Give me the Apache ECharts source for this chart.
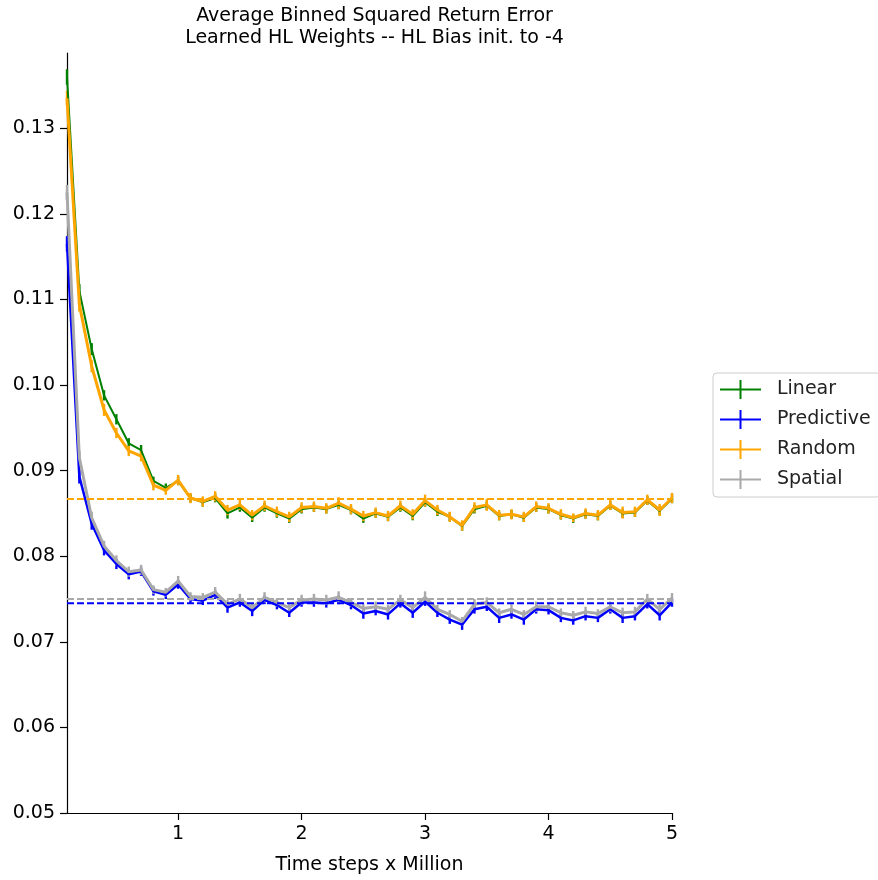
<!DOCTYPE html>
<html>
<head>
<meta charset="utf-8">
<script src="https://cdn.jsdelivr.net/npm/echarts@6/dist/echarts.min.js"></script>
<style>html,body{margin:0;padding:0;background:#fff}#c{width:878px;height:880px}</style>
</head>
<body>
<div id="c"></div>
<script>
const xs = [0.1,0.2,0.3,0.4,0.5,0.6,0.7,0.8,0.9,1.0,1.1,1.2,1.3,1.4,1.5,1.6,1.7,1.8,1.9,2.0,2.1,2.2,2.3,2.4,2.5,2.6,2.7,2.8,2.9,3.0,3.1,3.2,3.3,3.4,3.5,3.6,3.7,3.8,3.9,4.0,4.1,4.2,4.3,4.4,4.5,4.6,4.7,4.8,4.9,5.0];
const linear = [0.1360,0.1110,0.1042,0.0988,0.0960,0.0932,0.0924,0.0888,0.0880,0.0888,0.0868,0.0863,0.0868,0.0850,0.0857,0.0845,0.0857,0.0850,0.0844,0.0855,0.0857,0.0855,0.0860,0.0854,0.0844,0.0850,0.0846,0.0857,0.0847,0.0863,0.0852,0.0846,0.0835,0.0855,0.0859,0.0847,0.0849,0.0845,0.0857,0.0855,0.0848,0.0844,0.0849,0.0847,0.0859,0.0850,0.0851,0.0865,0.0853,0.0867];
const predictive = [0.1165,0.0893,0.0838,0.0807,0.0791,0.0779,0.0782,0.0759,0.0755,0.0767,0.0750,0.0748,0.0755,0.0740,0.0746,0.0736,0.0749,0.0743,0.0734,0.0746,0.0746,0.0745,0.0749,0.0743,0.0733,0.0736,0.0732,0.0745,0.0734,0.0747,0.0734,0.0726,0.0720,0.0738,0.0741,0.0728,0.0732,0.0726,0.0738,0.0737,0.0728,0.0725,0.0730,0.0728,0.0738,0.0728,0.0730,0.0744,0.0731,0.0746];
const random = [0.1335,0.1094,0.1022,0.0971,0.0944,0.0923,0.0917,0.0883,0.0877,0.0889,0.0868,0.0864,0.0870,0.0854,0.0860,0.0848,0.0859,0.0852,0.0846,0.0857,0.0858,0.0856,0.0862,0.0855,0.0847,0.0851,0.0847,0.0859,0.0849,0.0865,0.0854,0.0846,0.0836,0.0857,0.0860,0.0848,0.0849,0.0846,0.0858,0.0856,0.0849,0.0845,0.0850,0.0848,0.0860,0.0851,0.0852,0.0866,0.0854,0.0868];
const spatial = [0.1225,0.0915,0.0845,0.0812,0.0795,0.0782,0.0784,0.0761,0.0758,0.0771,0.0753,0.0752,0.0758,0.0744,0.0750,0.0740,0.0752,0.0746,0.0740,0.0749,0.0750,0.0749,0.0752,0.0746,0.0739,0.0741,0.0738,0.0749,0.0740,0.0752,0.0738,0.0732,0.0724,0.0744,0.0746,0.0734,0.0738,0.0732,0.0741,0.0741,0.0734,0.0731,0.0735,0.0733,0.0741,0.0734,0.0735,0.0750,0.0738,0.0751];
const linearErr = [0.0009,0.0008,0.0007,0.0006,0.0006,0.0006,0.0006,0.0005,0.0005,0.0005,0.0005,0.0005,0.0005,0.0006,0.0005,0.0005,0.0005,0.0005,0.0005,0.0005,0.0005,0.0005,0.0005,0.0005,0.0005,0.0005,0.0005,0.0005,0.0005,0.0005,0.0005,0.0005,0.0005,0.0005,0.0005,0.0005,0.0005,0.0005,0.0005,0.0005,0.0005,0.0005,0.0005,0.0005,0.0005,0.0005,0.0005,0.0005,0.0005,0.0005];
const predictiveErr = [0.0009,0.0008,0.0007,0.0006,0.0006,0.0006,0.0005,0.0005,0.0005,0.0005,0.0005,0.0005,0.0005,0.0006,0.0005,0.0006,0.0005,0.0005,0.0005,0.0005,0.0005,0.0005,0.0005,0.0005,0.0006,0.0005,0.0006,0.0005,0.0006,0.0005,0.0005,0.0005,0.0006,0.0005,0.0005,0.0006,0.0005,0.0006,0.0005,0.0005,0.0005,0.0005,0.0005,0.0005,0.0005,0.0006,0.0005,0.0005,0.0006,0.0005];
const randomErr = [0.0009,0.0008,0.0007,0.0007,0.0006,0.0006,0.0006,0.0006,0.0005,0.0006,0.0006,0.0006,0.0006,0.0006,0.0006,0.0006,0.0006,0.0006,0.0006,0.0006,0.0006,0.0006,0.0007,0.0006,0.0006,0.0006,0.0006,0.0006,0.0006,0.0007,0.0006,0.0006,0.0006,0.0006,0.0007,0.0006,0.0006,0.0006,0.0006,0.0006,0.0006,0.0005,0.0006,0.0006,0.0006,0.0007,0.0006,0.0006,0.0007,0.0006];
const spatialErr = [0.0009,0.0008,0.0007,0.0006,0.0006,0.0006,0.0006,0.0005,0.0005,0.0006,0.0005,0.0005,0.0006,0.0005,0.0006,0.0005,0.0006,0.0005,0.0005,0.0006,0.0006,0.0006,0.0007,0.0005,0.0005,0.0006,0.0005,0.0006,0.0005,0.0007,0.0005,0.0005,0.0005,0.0006,0.0006,0.0005,0.0006,0.0005,0.0006,0.0005,0.0005,0.0005,0.0006,0.0005,0.0006,0.0006,0.0006,0.0006,0.0006,0.0006];
const baselines = {Linear: null, Predictive: 0.0745, Random: 0.0867, Spatial: 0.0750};
const names = ['Linear','Predictive','Random','Spatial'];
const colors = ['#008000','#0000ff','#ffa500','#a9a9a9'];
const widths = [2, 2.5, 3, 3];
const values = [linear, predictive, random, spatial];
const errs = [linearErr, predictiveErr, randomErr, spatialErr];
const yTicks = [0.05,0.06,0.07,0.08,0.09,0.10,0.11,0.12,0.13];
const xTicks = [1,2,3,4,5];

const FONT = 'DejaVu Sans';
const series = [];
names.forEach((n, i) => {
  series.push({
    name: n, type: 'line', showSymbol: false, symbol: 'none',
    data: xs.map((x, k) => [x, values[i][k]]),
    lineStyle: {color: colors[i], width: widths[i]},
    itemStyle: {color: colors[i]},
    emphasis: {disabled: true}, animation: false
  });
  series.push({
    name: n + ' err', type: 'custom', animation: false, silent: true,
    data: xs.map((x, k) => [x, values[i][k], errs[i][k]]),
    renderItem: function (params, api) {
      const x = api.value(0), y = api.value(1), e = api.value(2);
      const p1 = api.coord([x, y - e]);
      const p2 = api.coord([x, y + e]);
      return {type: 'line', shape: {x1: p1[0], y1: p1[1], x2: p2[0], y2: p2[1]},
              style: {stroke: colors[i], lineWidth: 2.4}};
    }
  });
});
['Random','Spatial','Predictive'].forEach(n => {
  const i = names.indexOf(n);
  series.push({
    name: n + ' base', type: 'line', showSymbol: false, symbol: 'none', silent: true,
    data: [[xs[0], baselines[n]], [xs[xs.length - 1], baselines[n]]],
    lineStyle: {color: colors[i], width: 2, type: [7, 3]},
    animation: false
  });
});

const chart = echarts.init(document.getElementById('c'));
chart.setOption({
  animation: false,
  backgroundColor: '#fff',
  title: {
    text: 'Average Binned Squared Return Error\nLearned HL Weights -- HL Bias init. to -4',
    left: 369.5, textAlign: 'center', top: 0,
    textStyle: {fontFamily: FONT, fontSize: 19, fontWeight: 'normal', color: '#000', lineHeight: 22}
  },
  grid: {left: 67, right: 206, top: 53, bottom: 66, containLabel: false},
  legend: {
    data: names, orient: 'vertical', left: 713, top: 373,
    padding: [7, 10, 8, 7], itemGap: 11, itemWidth: 41, itemHeight: 19,
    borderColor: '#cccccc', borderWidth: 1, borderRadius: 4, backgroundColor: '#fff',
    icon: 'path://M0,8.5H41V10.5H0Z M19.5,0H21.5V19H19.5Z',
    textStyle: {fontFamily: FONT, fontSize: 19, color: '#222', lineHeight: 19, padding: [0, 0, 0, 11]},
    selectedMode: false
  },
  xAxis: {
    type: 'value', min: 0.1, max: 5,
    name: 'Time steps x Million', nameLocation: 'middle', nameGap: 43,
    nameTextStyle: {fontFamily: FONT, fontSize: 19, color: '#000'},
    axisLine: {show: true, onZero: false, lineStyle: {color: '#000', width: 1.2}},
    axisTick: {show: true, length: 7, lineStyle: {color: '#000', width: 1.2}, customValues: xTicks},
    axisLabel: {fontFamily: FONT, fontSize: 19, color: '#000', margin: 12, customValues: xTicks,
      formatter: v => String(Math.round(v))},
    splitLine: {show: false}
  },
  yAxis: {
    type: 'value', min: 0.05, max: 0.1388,
    axisLine: {show: true, onZero: false, lineStyle: {color: '#000', width: 1.2}},
    axisTick: {show: true, length: 7, lineStyle: {color: '#000', width: 1.2}, customValues: yTicks},
    axisLabel: {fontFamily: FONT, fontSize: 19, color: '#000', margin: 12, customValues: yTicks,
      formatter: v => v.toFixed(2)},
    splitLine: {show: false}
  },
  series: series
});
</script>
</body>
</html>
